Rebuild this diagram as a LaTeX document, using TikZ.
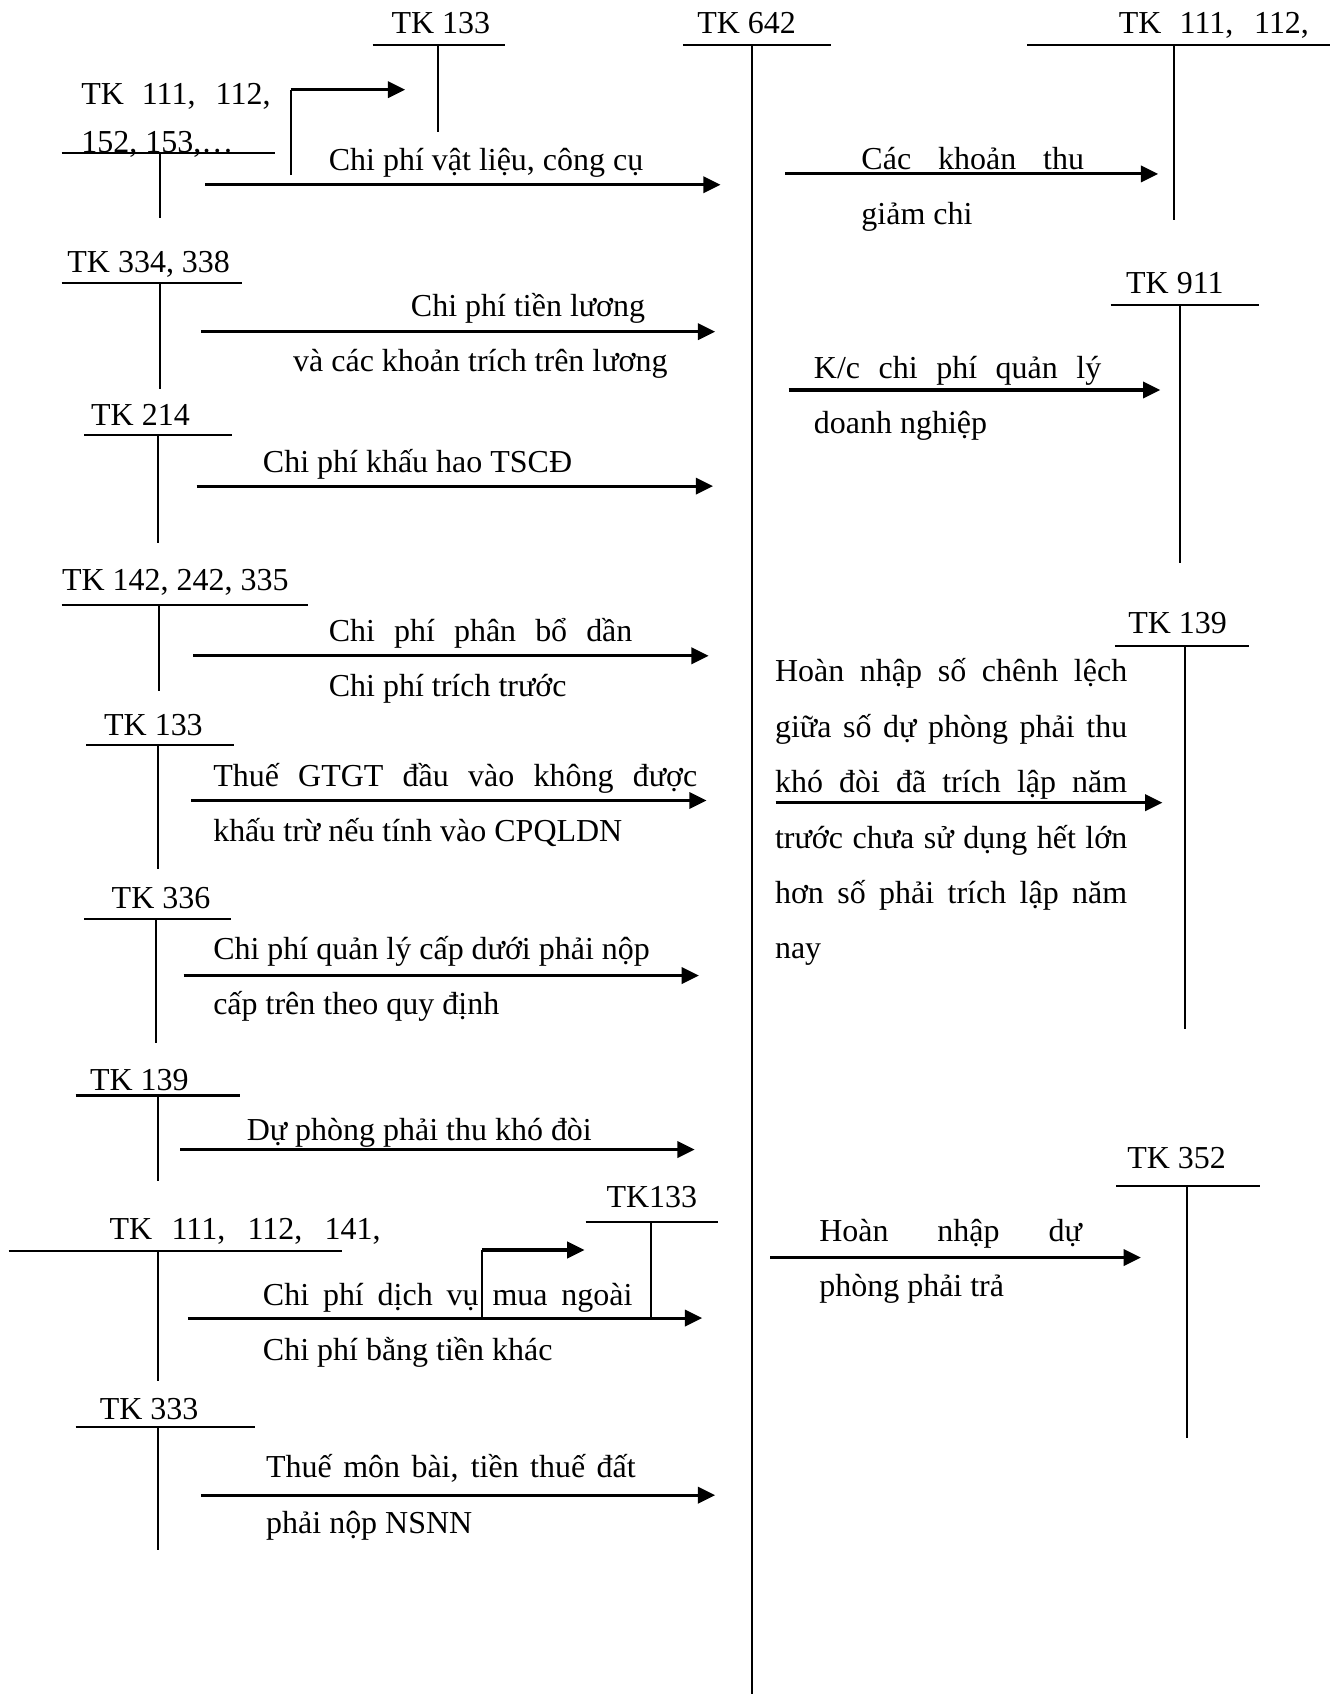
\documentclass[tikz,border=0pt]{standalone}
\usepackage{fontspec}
\setmainfont{Liberation Serif}
\usetikzlibrary{arrows.meta}
\newcommand{\jbox}[2]{\makebox[#1pt][s]{#2}}
\begin{document}
\begin{tikzpicture}[x=0.5pt,y=-0.5pt,
  tl/.style={line width=0.95pt},
  arr/.style={line width=1.4pt,-{Triangle[length=8pt,width=7.5pt]}},
  lbl/.style={inner sep=0pt,anchor=base west,font=\fontsize{14.8}{17}\selectfont},
  lblr/.style={lbl,anchor=base east}]
\useasboundingbox (0,0) rectangle (1231,1568);

% ---- TK 642 (central account)
\node[lbl] (n642) at (645,31) {TK 642};
\draw[tl] (632,42) -- (769,42);
\draw[tl] (696,42) -- (696,1568);

% ---- top TK 133
\node[lbl] (n133a) at (362,31) {TK 133};
\draw[tl] (345,42) -- (467,42);
\draw[tl] (405,42) -- (405,122);

% ---- top right TK 111, 112
\node[lblr] (n111r) at (1212,31) {\jbox{88}{TK 111, 112,}};
\draw[tl] (951,42) -- (1231,42);
\draw[tl] (1087,42) -- (1087,204);

% ---- left TK 111,112,152,153
\node[lbl] (n111a) at (75,97) {\jbox{87.5}{TK 111, 112,}};
\node[lbl] (n152) at (75,141) {152, 153,…};
\draw[tl] (57,142) -- (255,142);
\draw[tl] (148,142) -- (148,202);
\coordinate (b1s) at (269,162);
\coordinate (b1c) at (269,83);
\coordinate (b1e) at (375,83);
\draw[tl] (b1s) -- (b1c);
\draw[arr] (b1c) -- (b1e);
\coordinate (a1s) at (190,171);
\coordinate (a1e) at (667,171);
\draw[arr] (a1s) -- (a1e);
\node[lbl] (t1) at (304,158) {Chi phí vật liệu, công cụ};

% ---- right: các khoản thu giảm chi
\coordinate (r1s) at (727,161);
\coordinate (r1e) at (1072,161);
\draw[arr] (r1s) -- (r1e);
\node[lbl] (r1a) at (797,157) {\jbox{103}{Các khoản thu}};
\node[lbl] (r1b) at (797,208) {giảm chi};

% ---- TK 334, 338
\node[lbl] (n334) at (62,252) {TK 334, 338};
\draw[tl] (57,262) -- (224,262);
\draw[tl] (148,262) -- (148,360);
\coordinate (a2s) at (186,307);
\coordinate (a2e) at (662,307);
\draw[arr] (a2s) -- (a2e);
\node[lbl] (t2a) at (380,293) {Chi phí tiền lương};
\node[lbl] (t2b) at (271,344) {và các khoản trích trên lương};

% ---- TK 911
\node[lbl] (n911) at (1042,272) {TK 911};
\draw[tl] (1028,282) -- (1165,282);
\draw[tl] (1092,282) -- (1092,521);
\coordinate (r2s) at (730,361);
\coordinate (r2e) at (1074,361);
\draw[arr] (r2s) -- (r2e);
\node[lbl] (r2a) at (753,350) {\jbox{133}{K/c chi phí quản lý}};
\node[lbl] (r2b) at (753,401) {doanh nghiệp};

% ---- TK 214
\node[lbl] (n214) at (84,394) {TK 214};
\draw[tl] (78,403) -- (215,403);
\draw[tl] (146,403) -- (146,503);
\coordinate (a3s) at (182,450);
\coordinate (a3e) at (660,450);
\draw[arr] (a3s) -- (a3e);
\node[lbl] (t3) at (243,437) {Chi phí khấu hao TSCĐ};

% ---- TK 142, 242, 335
\node[lbl] (n142) at (57,547) {TK 142, 242, 335};
\draw[tl] (57,560) -- (285,560);
\draw[tl] (147,560) -- (147,640);
\coordinate (a4s) at (179,607);
\coordinate (a4e) at (656,607);
\draw[arr] (a4s) -- (a4e);
\node[lbl] (t4a) at (304,594) {\jbox{140.5}{Chi phí phân bổ dần}};
\node[lbl] (t4b) at (304,645) {Chi phí trích trước};

% ---- TK 139 right
\node[lbl] (n139r) at (1044,586) {TK 139};
\draw[tl] (1032,598) -- (1156,598);
\draw[tl] (1097,598) -- (1097,952);
\coordinate (r3s) at (718,743);
\coordinate (r3e) at (1076,743);
\draw[arr] (r3s) -- (r3e);
\node[lbl] (r3a) at (717,631) {\jbox{163}{Hoàn nhập số chênh lệch}};
\node[lbl] (r3b) at (717,683) {\jbox{163}{giữa số dự phòng phải thu}};
\node[lbl] (r3c) at (717,734) {\jbox{163}{khó đòi đã trích lập năm}};
\node[lbl] (r3d) at (717,785) {\jbox{163}{trước chưa sử dụng hết lớn}};
\node[lbl] (r3e) at (717,836) {\jbox{163}{hơn số phải trích lập năm}};
\node[lbl] (r3f) at (717,887) {nay};

% ---- TK 133 left
\node[lbl] (n133b) at (96,681) {TK 133};
\draw[tl] (80,690) -- (217,690);
\draw[tl] (146,690) -- (146,804);
\coordinate (a5s) at (177,741);
\coordinate (a5e) at (654,741);
\draw[arr] (a5s) -- (a5e);
\node[lbl] (t5a) at (197,728) {\jbox{224}{Thuế GTGT đầu vào không được}};
\node[lbl] (t5b) at (197,779) {khấu trừ nếu tính vào CPQLDN};

% ---- TK 336
\node[lbl] (n336) at (103,841) {TK 336};
\draw[tl] (78,851) -- (214,851);
\draw[tl] (144,851) -- (144,965);
\coordinate (a6s) at (170,903);
\coordinate (a6e) at (647,903);
\draw[arr] (a6s) -- (a6e);
\node[lbl] (t6a) at (197,888) {Chi phí quản lý cấp dưới phải nộp};
\node[lbl] (t6b) at (197,939) {cấp trên theo quy định};

% ---- TK 139 left
\node[lbl] (n139l) at (83,1009) {TK 139};
\draw[tl] (70,1014) -- (222,1014);
\draw[tl] (146,1014) -- (146,1093);
\coordinate (a7s) at (167,1064);
\coordinate (a7e) at (643,1064);
\draw[arr] (a7s) -- (a7e);
\node[lbl] (t7) at (228,1056) {Dự phòng phải thu khó đòi};

% ---- TK 352
\node[lbl] (n352) at (1043,1082) {TK 352};
\draw[tl] (1033,1098) -- (1166,1098);
\draw[tl] (1099,1098) -- (1099,1331);
\coordinate (r4s) at (713,1164);
\coordinate (r4e) at (1056,1164);
\draw[arr] (r4s) -- (r4e);
\node[lbl] (r4a) at (758,1149) {\jbox{121.5}{Hoàn nhập dự}};
\node[lbl] (r4b) at (758,1200) {phòng phải trả};

% ---- TK 111, 112, 141
\node[lbl] (n111b) at (101,1147) {\jbox{125.5}{TK 111, 112, 141,}};
\draw[tl] (8,1158) -- (317,1158);
\draw[tl] (146,1158) -- (146,1278);
\node[lbl] (n133c) at (561,1118) {TK133};
\draw[tl] (542,1131) -- (665,1131);
\draw[tl] (603,1131) -- (603,1220);
\coordinate (b2s) at (446,1220);
\coordinate (b2c) at (446,1157);
\coordinate (b2e) at (541,1157);
\draw[tl] (b2s) -- (b2c);
\draw[arr] (b2c) -- (b2e);
\coordinate (a8s) at (174,1220);
\coordinate (a8e) at (650,1220);
\draw[arr] (a8s) -- (a8e);
\node[lbl] (t8a) at (243,1208) {\jbox{171}{Chi phí dịch vụ mua ngoài}};
\node[lbl] (t8b) at (243,1259) {Chi phí bằng tiền khác};

% ---- TK 333
\node[lbl] (n333) at (92,1314) {TK 333};
\draw[tl] (70,1321) -- (236,1321);
\draw[tl] (146,1321) -- (146,1435);
\coordinate (a9s) at (186,1384);
\coordinate (a9e) at (662,1384);
\draw[arr] (a9s) -- (a9e);
\node[lbl] (t9a) at (246,1368) {\jbox{171}{Thuế môn bài, tiền thuế đất}};
\node[lbl] (t9b) at (246,1419) {phải nộp NSNN};
\end{tikzpicture}
\end{document}
